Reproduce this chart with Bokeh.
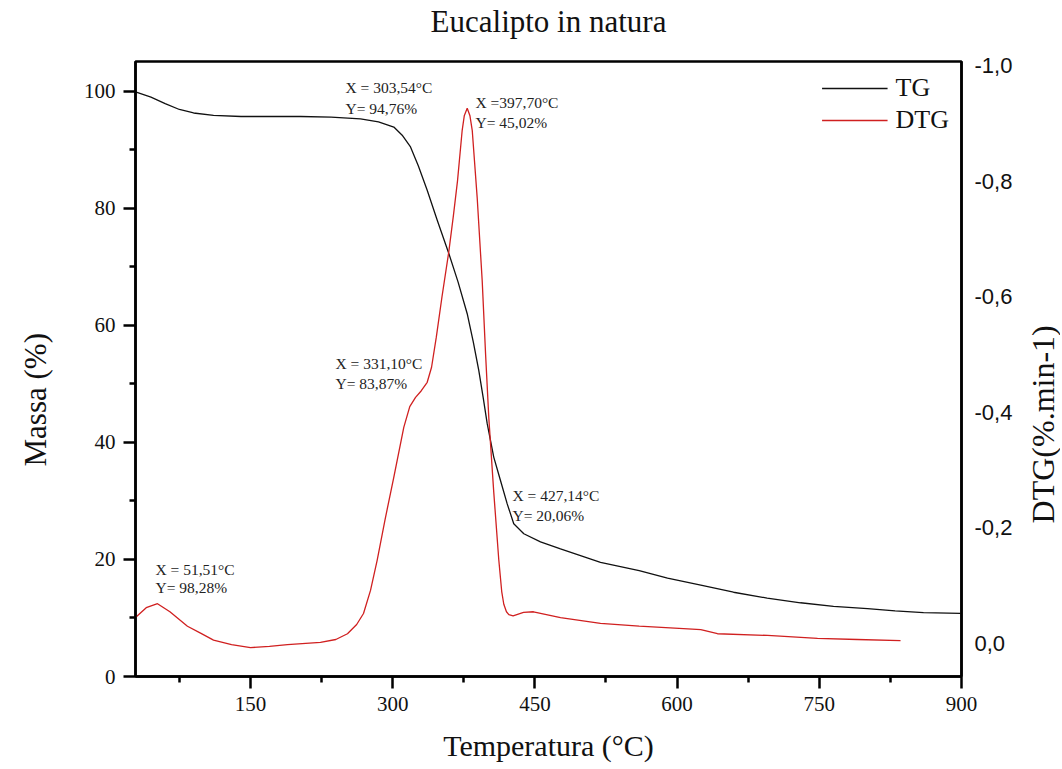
import math
from bokeh.plotting import figure
from bokeh.layouts import row
from bokeh.models import (Range1d, LinearAxis, FixedTicker, CustomJSTickFormatter, Legend,
                          LegendItem, Title)
from bokeh.embed import file_html
from bokeh.resources import INLINE
from bokeh.core.properties import value

SERIF = "Liberation Serif"
SANS = "Liberation Sans"

# ---------------- data ----------------
tg_temp = [28.7, 45, 60, 75, 90, 111, 140, 170, 203, 235, 266, 285, 301.2, 310, 318.8,
           327, 336.4, 346.9, 359.2, 369, 378.6, 385, 390.8, 395.5, 399.7, 406.6, 413.7,
           420.8, 427.7, 438.3, 455.9, 477, 519.2, 560, 589.9, 625, 659.5, 695, 730.2,
           765, 800.8, 830, 859.9, 899]
tg_mass = [99.9, 99.0, 97.9, 96.9, 96.3, 95.9, 95.7, 95.7, 95.7, 95.6, 95.3, 94.8, 93.9,
           92.5, 90.5, 87.3, 83.1, 78.0, 72.3, 67.4, 62.0, 57.2, 52.3, 47.6, 43.2, 37.5, 33.5,
           29.5, 26.1, 24.4, 23.0, 21.8, 19.5, 18.1, 16.8, 15.6, 14.4, 13.4, 12.6,
           12.0, 11.6, 11.2, 10.9, 10.8]

dtg_temp = [28.7, 40, 51.9, 65, 83.5, 97.3, 111, 130, 150, 170, 189, 223.8, 240, 252.3,
            262, 269.2, 276.6, 283.6, 292, 301.2, 311.7, 318, 324.1, 330, 336.4, 341, 346,
            352, 359.2, 364, 368.4, 373.3, 375.5, 378.6, 381.5, 383.9, 389.1, 394.4, 398,
            401.4, 406.6, 411.9, 415, 417.2, 420, 422.5, 427, 438, 448.5, 477, 519.2, 560,
            606.8, 625, 642.6, 695.4, 748.1, 790, 835.7]
dtg_rate = [-0.045, -0.062, -0.069, -0.055, -0.030, -0.018, -0.006, 0.002, 0.007, 0.005,
            0.002, -0.002, -0.007, -0.017, -0.033, -0.052, -0.092, -0.144, -0.215, -0.288,
            -0.374, -0.410, -0.426, -0.437, -0.452, -0.478, -0.530, -0.600, -0.678, -0.740,
            -0.801, -0.888, -0.913, -0.926, -0.913, -0.888, -0.772, -0.628, -0.500, -0.390,
            -0.262, -0.145, -0.090, -0.068, -0.055, -0.050, -0.048, -0.054, -0.055, -0.045,
            -0.035, -0.030, -0.026, -0.024, -0.017, -0.014, -0.009, -0.007, -0.005]

x_ticks = [150, 300, 450, 600, 750, 900]
x_minor = [75, 225, 375, 525, 675, 825]
y_ticks = [0, 20, 40, 60, 80, 100]
y_minor = [10, 30, 50, 70, 90]
dtg_ticks = [-1.0, -0.8, -0.6, -0.4, -0.2, 0.0]

ann_text = ["X = 303,54°C", "Y= 94,76%",
            "X =397,70°C", "Y= 45,02%",
            "X = 331,10°C", "Y= 83,87%",
            "X = 427,14°C", "Y= 20,06%",
            "X = 51,51°C", "Y= 98,28%"]
ann_x = [250.2, 250.2, 387.3, 387.3, 239.7, 239.7, 426.4, 426.4, 49.8, 49.8]
ann_y = [102.1, 98.6, 99.5, 96.1, 55.0, 51.6, 32.3, 28.9, 19.8, 16.6]

X_MIN, X_MAX = 28.7, 900
Y_MIN, Y_MAX = 0, 105.1
H = 769
TOP, BOTTOM = 61, 93

# ---------------- main figure ----------------
p = figure(width=966, height=H, output_backend="svg", toolbar_location=None,
           x_range=Range1d(X_MIN, X_MAX), y_range=Range1d(Y_MIN, Y_MAX),
           min_border_left=79, min_border_right=61, min_border_top=TOP,
           min_border_bottom=BOTTOM)
p.extra_y_ranges = {"dtg": Range1d(start=0.057, end=-1.007)}

p.title.text = "Eucalipto in natura"
p.title.align = "center"
p.title.text_font = SERIF
p.title.text_font_size = "31px"
p.title.text_font_style = "normal"
p.title.text_color = "#111111"
p.title.standoff = 0
# thin blank spacer between the title and the frame
p.add_layout(Title(text=" ", text_font_size="12px", standoff=7), "above")

p.xgrid.visible = False
p.ygrid.visible = False
p.outline_line_color = "black"
p.outline_line_width = 2.5
p.background_fill_color = "white"
p.border_fill_color = "white"

def style_axis(ax, ticks, minor):
    ax.ticker = FixedTicker(ticks=ticks, minor_ticks=minor)
    ax.major_label_text_font = SERIF
    ax.major_label_text_font_size = "21px"
    ax.major_label_text_color = "#111111"
    ax.axis_line_width = 2.5
    ax.major_tick_line_width = 2.5
    ax.minor_tick_line_width = 2.5
    ax.major_tick_out = 12
    ax.major_tick_in = 0
    ax.minor_tick_out = 6
    ax.minor_tick_in = 0
    ax.major_label_standoff = 8

xa = p.xaxis[0]
style_axis(xa, x_ticks, x_minor)
xa.axis_label = "Temperatura (°C)"
xa.axis_label_text_font = SERIF
xa.axis_label_text_font_size = "30px"
xa.axis_label_text_font_style = "normal"
xa.axis_label_text_color = "#111111"
xa.axis_label_standoff = 15

ya = p.yaxis[0]
style_axis(ya, y_ticks, y_minor)

ra = LinearAxis(y_range_name="dtg")
ra.ticker = FixedTicker(ticks=dtg_ticks)
ra.formatter = CustomJSTickFormatter(code="return tick.toFixed(1).replace('.', ',');")
ra.major_label_text_font = SANS
ra.major_label_text_font_size = "22px"
ra.major_label_text_color = "#111111"
ra.major_label_standoff = 13
ra.axis_line_width = 2.5
ra.major_tick_out = 0
ra.major_tick_in = 0
ra.minor_tick_out = 0
ra.minor_tick_in = 0
p.add_layout(ra, "right")

r_tg = p.line(tg_temp, tg_mass, line_color="#111111", line_width=1.3)
r_dtg = p.line(dtg_temp, dtg_rate, line_color="#d02020", line_width=1.3, y_range_name="dtg")

p.text(x=ann_x, y=ann_y, text=ann_text, text_font=value(SERIF), text_font_size="15.5px",
       text_baseline="top", text_align="left", text_color="#222222")

legend = Legend(items=[LegendItem(label="TG", renderers=[r_tg]),
                       LegendItem(label="DTG", renderers=[r_dtg])],
                location="top_right", border_line_alpha=0, background_fill_alpha=0,
                label_text_font=SERIF, label_text_font_size="26px", label_text_color="#111111",
                glyph_width=66, glyph_height=30, label_height=30, label_standoff=8,
                spacing=2, margin=6, padding=6)
p.add_layout(legend)

# ---------------- side strips holding the vertical axis titles ----------------
def side_strip(width, label, fx, fy, size):
    s = figure(width=width, height=H, output_backend="svg", toolbar_location=None,
               x_range=Range1d(0, 1), y_range=Range1d(0, 1),
               x_axis_type=None, y_axis_type=None,
               min_border_left=0, min_border_right=0, min_border_top=TOP,
               min_border_bottom=BOTTOM)
    s.grid.visible = False
    s.outline_line_color = None
    s.background_fill_color = "white"
    s.border_fill_color = "white"
    s.text(x=[fx], y=[fy], text=[label], angle=math.pi / 2, text_align="center",
           text_baseline="middle", text_font=value(SERIF), text_font_size=size,
           text_color="#111111")
    return s

left_strip = side_strip(56, "Massa (%)", 0.62, 0.45, "31px")
right_strip = side_strip(38, "DTG(%.min-1)", 0.55, 0.41, "32px")

layout = row(left_strip, p, right_strip)

open("out.html", "w").write(file_html(layout, INLINE))
